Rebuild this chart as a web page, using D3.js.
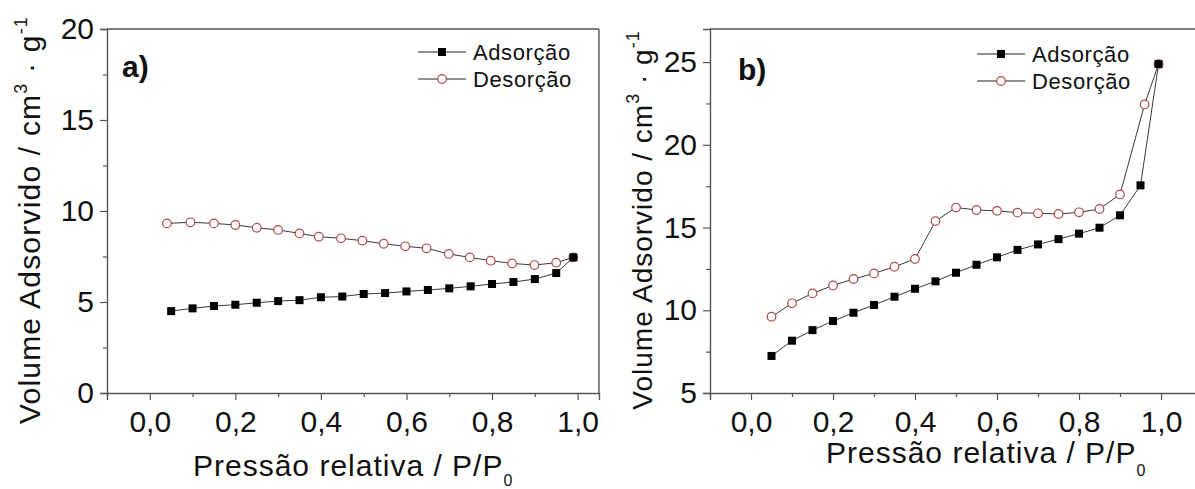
<!DOCTYPE html>
<html>
<head>
<meta charset="utf-8">
<script src="https://cdn.jsdelivr.net/npm/d3@7"></script>
<style>
  html, body { margin: 0; padding: 0; background: #fff; }
  svg { display: block; }
  text { font-family: "Liberation Sans", Arial, sans-serif; fill: #111; }
</style>
</head>
<body>
<svg id="chart" width="1195" height="489"></svg>
<script>
// ---------- DATA ----------
// Panel a)
const aAdsP = [0.05, 0.10, 0.15, 0.20, 0.25, 0.30, 0.35, 0.40, 0.45, 0.50, 0.55, 0.60, 0.65, 0.70, 0.75, 0.80, 0.85, 0.90, 0.95, 0.99];
const aAdsV = [4.50, 4.65, 4.78, 4.85, 4.96, 5.05, 5.10, 5.26, 5.30, 5.44, 5.49, 5.58, 5.66, 5.75, 5.86, 5.99, 6.10, 6.26, 6.59, 7.45];
const aDesP = [0.04, 0.095, 0.15, 0.20, 0.25, 0.30, 0.35, 0.395, 0.447, 0.497, 0.547, 0.597, 0.647, 0.699, 0.748, 0.797, 0.847, 0.899, 0.95, 0.99];
const aDesV = [9.32, 9.38, 9.32, 9.23, 9.08, 8.96, 8.77, 8.59, 8.50, 8.37, 8.20, 8.06, 7.95, 7.64, 7.45, 7.27, 7.12, 7.03, 7.16, 7.45];
// Panel b)
const bAdsP = [0.05, 0.10, 0.15, 0.20, 0.25, 0.30, 0.35, 0.40, 0.45, 0.50, 0.55, 0.60, 0.65, 0.70, 0.75, 0.80, 0.85, 0.90, 0.95, 0.994];
const bAdsV = [7.24, 8.16, 8.80, 9.35, 9.85, 10.32, 10.82, 11.30, 11.75, 12.27, 12.75, 13.20, 13.65, 13.98, 14.30, 14.63, 14.99, 15.74, 17.55, 24.88];
const bDesP = [0.05, 0.10, 0.15, 0.20, 0.25, 0.30, 0.35, 0.40, 0.45, 0.50, 0.55, 0.60, 0.65, 0.70, 0.75, 0.80, 0.85, 0.90, 0.96, 0.994];
const bDesV = [9.61, 10.42, 11.02, 11.50, 11.89, 12.23, 12.63, 13.10, 15.39, 16.21, 16.06, 16.01, 15.90, 15.86, 15.82, 15.92, 16.12, 17.00, 22.44, 24.88];

const xTicks = [0, 0.2, 0.4, 0.6, 0.8, 1.0];
const xTickLabels = ["0,0", "0,2", "0,4", "0,6", "0,8", "1,0"];
const xMinor = [-0.1, 0.1, 0.3, 0.5, 0.7, 0.9];
const aYTicks = [0, 5, 10, 15, 20];
const aYMinor = [2.5, 7.5, 12.5, 17.5];
const bYTicks = [5, 10, 15, 20, 25];
const bYMinor = [7.5, 12.5, 17.5, 22.5];
const seriesNames = ["Adsorção", "Desorção"];
const panelLabels = ["a)", "b)"];

// ---------- DRAW ----------
const svg = d3.select("#chart");
const AXIS = "#555";
const CIRC = "#b04a4a";

function drawPanel(cfg) {
  const x = d3.scaleLinear().domain(cfg.xDomain).range([cfg.left, cfg.right]);
  const y = d3.scaleLinear().domain(cfg.yDomain).range([cfg.bottom, cfg.top]);
  const g = svg.append("g");

  // frame (top / right)
  g.append("line").attr("x1", cfg.left).attr("x2", cfg.right).attr("y1", cfg.top).attr("y2", cfg.top)
    .attr("stroke", AXIS).attr("stroke-width", 1.4);
  g.append("line").attr("x1", cfg.right).attr("x2", cfg.right).attr("y1", cfg.top).attr("y2", cfg.bottom)
    .attr("stroke", AXIS).attr("stroke-width", 1.4);

  // bottom axis
  const xa = g.append("g").attr("transform", `translate(0,${cfg.bottom})`)
    .call(d3.axisBottom(x).tickValues(xTicks).tickSize(7).tickPadding(11)
      .tickFormat((d, i) => xTickLabels[i]));
  const xm = g.append("g").attr("transform", `translate(0,${cfg.bottom})`)
    .call(d3.axisBottom(x).tickValues(xMinor).tickSize(4).tickFormat(""));
  // left axis
  const ya = g.append("g").attr("transform", `translate(${cfg.left},0)`)
    .call(d3.axisLeft(y).tickValues(cfg.yTicks).tickSize(7).tickPadding(6));
  const ym = g.append("g").attr("transform", `translate(${cfg.left},0)`)
    .call(d3.axisLeft(y).tickValues(cfg.yMinor).tickSize(4).tickFormat(""));
  [xa, xm, ya, ym].forEach(a => {
    a.select(".domain").attr("stroke", AXIS).attr("stroke-width", 1.4);
    a.selectAll(".tick line").attr("stroke", AXIS).attr("stroke-width", 1.2);
    a.selectAll("text").attr("font-size", 30).attr("fill", "#111")
      .attr("font-family", "Liberation Sans, Arial, sans-serif");
  });
  xm.select(".domain").remove();
  ym.select(".domain").remove();

  const line = d3.line().x(d => x(d[0])).y(d => y(d[1]));
  const des = cfg.desP.map((p, i) => [p, cfg.desV[i]]);
  const ads = cfg.adsP.map((p, i) => [p, cfg.adsV[i]]);

  g.append("path").datum(des).attr("d", line).attr("fill", "none").attr("stroke", "#222").attr("stroke-width", 0.9);
  g.append("path").datum(ads).attr("d", line).attr("fill", "none").attr("stroke", "#222").attr("stroke-width", 0.9);
  g.selectAll("circle.des").data(des).enter().append("circle")
    .attr("cx", d => x(d[0])).attr("cy", d => y(d[1])).attr("r", 4.3)
    .attr("fill", "#fff").attr("stroke", CIRC).attr("stroke-width", 1.2);
  g.selectAll("rect.ads").data(ads).enter().append("rect")
    .attr("x", d => x(d[0]) - 4).attr("y", d => y(d[1]) - 4).attr("width", 8).attr("height", 8)
    .attr("fill", "#000");

  // panel label
  g.append("text").attr("x", cfg.labX).attr("y", cfg.labY).attr("font-size", 30).attr("font-weight", "bold")
    .text(cfg.label);

  // legend
  const L = cfg.legend;
  seriesNames.forEach((name, i) => {
    const yy = L.y + i * 27;
    g.append("line").attr("x1", L.x).attr("x2", L.x + 48).attr("y1", yy).attr("y2", yy)
      .attr("stroke", "#222").attr("stroke-width", 1);
    if (i === 0) {
      g.append("rect").attr("x", L.x + 20).attr("y", yy - 4).attr("width", 8).attr("height", 8).attr("fill", "#000");
    } else {
      g.append("circle").attr("cx", L.x + 24).attr("cy", yy).attr("r", 4.3)
        .attr("fill", "#fff").attr("stroke", CIRC).attr("stroke-width", 1.2);
    }
    g.append("text").attr("x", L.x + 55).attr("y", yy + 8).attr("font-size", 22).attr("letter-spacing", 0.6)
      .text(name);
  });

  // x label
  const xl = g.append("text").attr("x", cfg.xlabX).attr("y", cfg.xlabY).attr("font-size", 30)
    .attr("letter-spacing", 1);
  xl.append("tspan").text("Pressão relativa / P/P");
  xl.append("tspan").attr("font-size", 16).attr("dy", cfg.subDy).text("0");

  // y label
  const yl = g.append("text")
    .attr("transform", `translate(${cfg.ylabX},${cfg.ylabY}) rotate(-90)`)
    .attr("text-anchor", "middle").attr("font-size", cfg.ylabSize).attr("letter-spacing", cfg.ylabLS);
  yl.append("tspan").text("Volume Adsorvido / cm");
  yl.append("tspan").attr("font-size", 18).attr("dy", -13).text("3");
  yl.append("tspan").attr("dy", 13).text(" · g");
  yl.append("tspan").attr("font-size", 18).attr("dy", -13).text("-1");
}

drawPanel({
  left: 107, right: 599, top: 29, bottom: 393,
  xDomain: [-0.1, 1.05], yDomain: [0, 20],
  yTicks: aYTicks, yMinor: aYMinor,
  adsP: aAdsP, adsV: aAdsV, desP: aDesP, desV: aDesV,
  label: panelLabels[0], labX: 122, labY: 77,
  legend: { x: 418, y: 52 },
  xlabX: 193, xlabY: 476, subDy: 10,
  ylabX: 40, ylabY: 220, ylabSize: 30, ylabLS: 1.2
});

drawPanel({
  left: 710, right: 1200, top: 29, bottom: 393,
  xDomain: [-0.1, 1.0951], yDomain: [5, 27],
  yTicks: bYTicks, yMinor: bYMinor,
  adsP: bAdsP, adsV: bAdsV, desP: bDesP, desV: bDesV,
  label: panelLabels[1], labX: 738, labY: 80,
  legend: { x: 977, y: 54 },
  xlabX: 826, xlabY: 463, subDy: 13,
  ylabX: 652, ylabY: 220, ylabSize: 28, ylabLS: 1
});
</script>
</body>
</html>
